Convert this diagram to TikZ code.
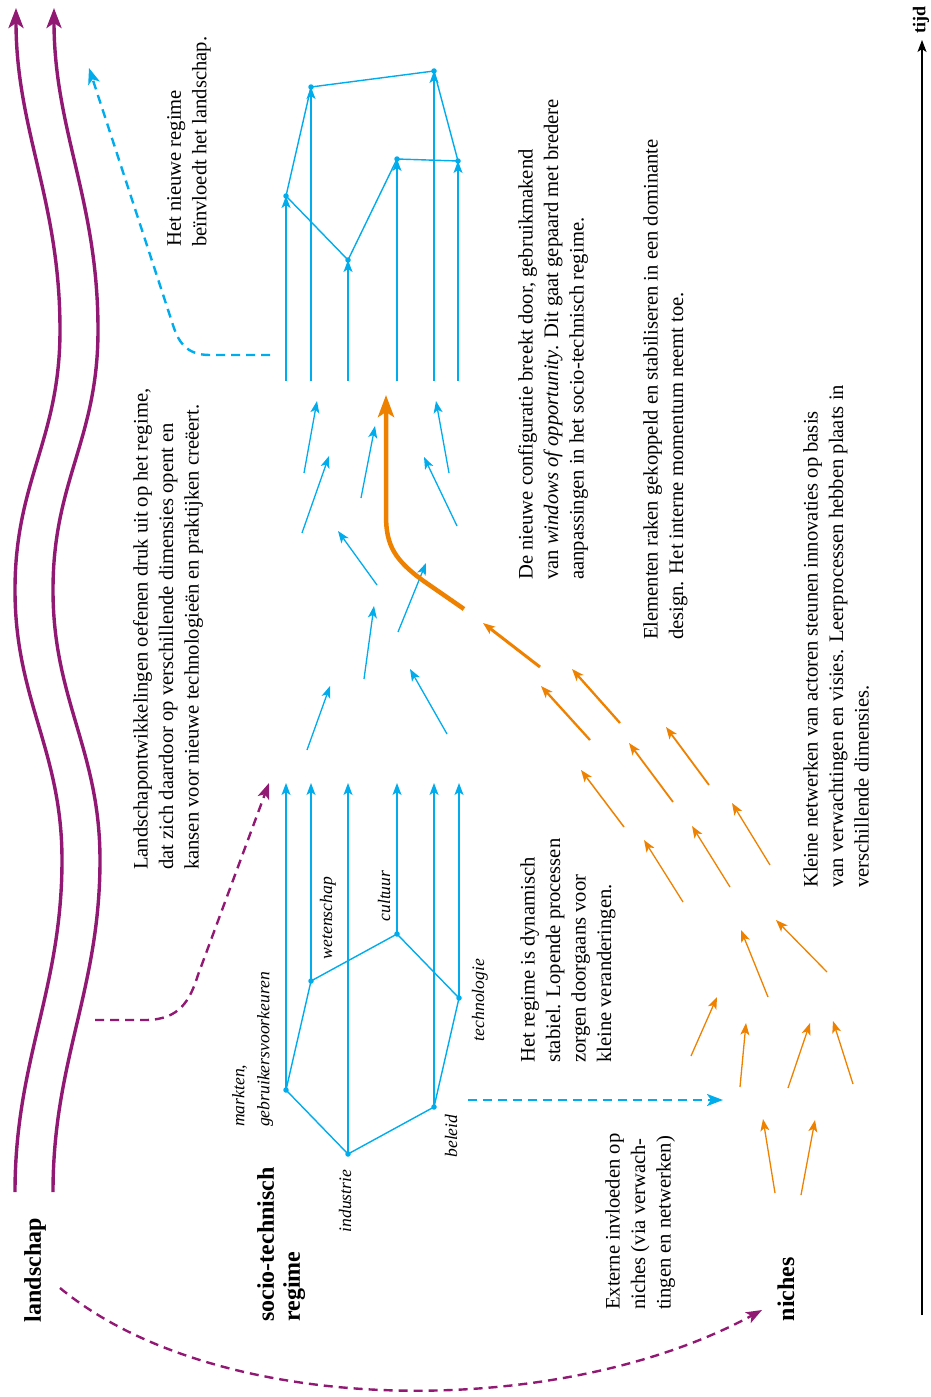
\documentclass[tikz,border=0pt]{standalone}
\usepackage{fontspec}
\setmainfont{Liberation Serif}
\usetikzlibrary{arrows.meta}
\definecolor{pcyan}{RGB}{0,172,236}
\definecolor{porange}{RGB}{238,130,0}
\definecolor{ppurple}{RGB}{145,25,115}
\begin{document}
\begin{tikzpicture}[x=1pt,y=-1pt,
  cyanline/.style={pcyan, line width=1.4pt},
  cyanarrow/.style={pcyan, line width=1.3pt, -{Stealth[length=12pt,width=9pt,inset=3pt]}},
  dot/.style={circle, fill=pcyan, inner sep=0pt, minimum size=5.5pt},
  orarrow/.style={porange, line width=1.3pt, -{Stealth[length=12pt,width=9pt,inset=3pt]}},
  landline/.style={ppurple, line width=3.4pt, -{Stealth[length=20pt,width=15pt,inset=5pt]}},
  purpledash/.style={ppurple, line width=2.4pt, dash pattern=on 9pt off 6pt, -{Stealth[length=16pt,width=12pt,inset=4pt]}},
  cyandash/.style={pcyan, line width=2.4pt, dash pattern=on 9pt off 6pt, -{Stealth[length=16pt,width=12pt,inset=4pt]}},
  txt/.style={rotate=90, align=left, inner sep=0pt, anchor=north west, font=\fontsize{20.6}{25.5}\selectfont},
  lbl/.style={rotate=90, inner sep=0pt, font=\fontsize{17.6}{25}\selectfont\itshape},
  head/.style={rotate=90, inner sep=0pt, font=\fontsize{24}{26}\selectfont\bfseries}
]
\useasboundingbox (0,0) rectangle (931,1397);

% landscape lines
\coordinate (L1a) at (15,1192);
\coordinate (L1b) at (16,8);
\coordinate (L2a) at (53,1192);
\coordinate (L2b) at (54,8);
\draw[landline] (L1a) .. controls (15,1060) and (62,990) .. (62,860)
  .. controls (62,750) and (15,700) .. (15,590)
  .. controls (15,480) and (60,440) .. (60,330)
  .. controls (60,200) and (16,130) .. (L1b);
\draw[landline] (L2a) .. controls (53,1060) and (100,990) .. (100,860)
  .. controls (100,750) and (53,700) .. (53,590)
  .. controls (53,480) and (98,440) .. (98,330)
  .. controls (98,200) and (54,130) .. (L2b);

% headings
\node[head] (hLand) at (35,1270) {landschap};
\node[head, align=left, anchor=north west] (hReg) at (257,1322) {socio-technisch\\regime};
\node[head] (hNiche) at (786,1289) {niches};

% time axis
\coordinate (T0) at (922,1315);
\coordinate (T1) at (922,40);
\draw[black, line width=1.2pt, -{Stealth[length=12pt,width=9pt,inset=3pt]}] (T0) -- (T1);
\node[rotate=90, inner sep=0pt, font=\fontsize{18}{20}\selectfont\bfseries] (tijd) at (921,20) {tijd};

% purple dashed connectors
\coordinate (P1s) at (60,1288);
\coordinate (P1e) at (762,1310);
\draw[purpledash] (P1s) .. controls (220,1420) and (560,1420) .. (P1e);
\coordinate (P2s) at (95,1020);
\coordinate (P2e) at (269,783);
\draw[purpledash] (P2s) -- (145,1020) .. controls (180,1020) and (190,1000) .. (198,975) -- (P2e);

% cyan dashed connectors
\coordinate (C1s) at (270,355);
\coordinate (C1e) at (89,68);
\draw[cyandash] (C1s) -- (210,355) .. controls (186,355) and (178,342) .. (172,322) -- (C1e);
\coordinate (C2s) at (468,1100);
\coordinate (C2e) at (723,1100);
\draw[cyandash] (C2s) -- (C2e);

% lower regime
\node[dot] (mk) at (286,1090) {};
\node[dot] (we) at (311,981) {};
\node[dot] (cu) at (397,934) {};
\node[dot] (te) at (459,998) {};
\node[dot] (be) at (434,1107) {};
\node[dot] (in) at (348,1154) {};
\draw[cyanline] (mk.center) -- (we.center) -- (cu.center) -- (te.center) -- (be.center) -- (in.center) -- (mk.center);
\foreach \n/\x in {mk/286, we/311, in/348, cu/397, be/434, te/459} {
  \coordinate (\n T) at (\x,783);
  \draw[cyanarrow] (\n.center) -- (\n T);
}
\node[lbl, align=left, anchor=north west] (lmk) at (232,1127) {markten,\\gebruikersvoorkeuren};
\node[lbl] (lin) at (345,1201) {industrie};
\node[lbl] (lwe) at (328,918) {wetenschap};
\node[lbl] (lcu) at (384,896) {cultuur};
\node[lbl] (lte) at (480,1000) {technologie};
\node[lbl] (lbe) at (451,1136) {beleid};

% upper regime
\node[dot] (u1) at (286,196) {};
\node[dot] (u2) at (311,87) {};
\node[dot] (u3) at (348,260) {};
\node[dot] (u4) at (397,159) {};
\node[dot] (u5) at (434,71) {};
\node[dot] (u6) at (458,161) {};
\draw[cyanline] (u1.center) -- (u2.center) -- (u5.center) -- (u6.center) -- (u4.center) -- (u3.center) -- (u1.center);
\foreach \n/\x in {u1/286, u2/311, u3/348, u4/397, u5/434, u6/458} {
  \coordinate (\n B) at (\x,381);
  \draw[cyanarrow] (\n B) -- (\n.center);
}

% scattered cyan arrows
\foreach \i/\ax/\ay/\bx/\by in {
  a/304/473/317/401, b/302/533/329/456, c/361/498/375/426, d/449/473/436/401,
  e/457/526/424/457, f/377/585/338/531, g/398/632/426/563, h/364/679/374/606,
  i/307/750/330/686, j/447/734/410/669} {
  \coordinate (s\i) at (\ax,\ay);
  \coordinate (e\i) at (\bx,\by);
  \draw[cyanarrow] (s\i) -- (e\i);
}

% orange arrows
\foreach \i/\ax/\ay/\bx/\by/\w in {
  1/624/827/581/770/1.5, 2/683/902/644/840/1.3, 3/730/887/692/826/1.3,
  4/770/865/732/803/1.3, 5/768/997/741/930/1.3, 6/827/972/776/920/1.3,
  7/691/1056/717/997/1.3, 8/740/1087/746/1023/1.3, 9/788/1088/810/1023/1.3,
  10/853/1084/833/1021/1.3, 11/775/1193/763/1119/1.3, 12/801/1195/815/1120/1.3,
  13/673/802/629/743/1.8, 14/709/785/666/727/1.8, 15/620/723/572/669/2.3,
  16/590/740/541/686/2.3, 17/540/667/483/623/3} {
  \coordinate (os\i) at (\ax,\ay);
  \coordinate (oe\i) at (\bx,\by);
  \draw[orarrow, line width=\w pt] (os\i) -- (oe\i);
}
\coordinate (Ks) at (464,609);
\coordinate (Ke) at (386,395);
\draw[porange, line width=4.5pt, -{Stealth[length=22pt,width=16pt,inset=5pt]}] (Ks) -- (425,582) .. controls (394,560) and (386,545) .. (386,515) -- (Ke);

% texts
\node[txt] (t1) at (133,870) {Landschapontwikkelingen oefenen druk uit op het regime,\\dat zich daardoor op verschillende dimensies opent en\\kansen voor nieuwe technologieën en praktijken creëert.};
\node[txt] (t2) at (167,247) {Het nieuwe regime\\beïnvloedt het landschap.};
\node[txt] (t3) at (518,580) {De nieuwe configuratie breekt door, gebruikmakend\\van \textit{windows of opportunity}. Dit gaat gepaard met bredere\\aanpassingen in het socio-technisch regime.};
\node[txt] (t4) at (643,640) {Elementen raken gekoppeld en stabiliseren in een dominante\\design. Het interne momentum neemt toe.};
\node[txt] (t5) at (803,888) {Kleine netwerken van actoren steunen innovaties op basis\\van verwachtingen en visies. Leerprocessen hebben plaats in\\verschillende dimensies.};
\node[txt] (t6) at (520,1063) {Het regime is dynamisch\\stabiel. Lopende processen\\zorgen doorgaans voor\\kleine veranderingen.};
\node[txt] (t7) at (605,1310) {Externe invloeden op\\niches (via verwach-\\tingen en netwerken)};
\end{tikzpicture}
\end{document}
